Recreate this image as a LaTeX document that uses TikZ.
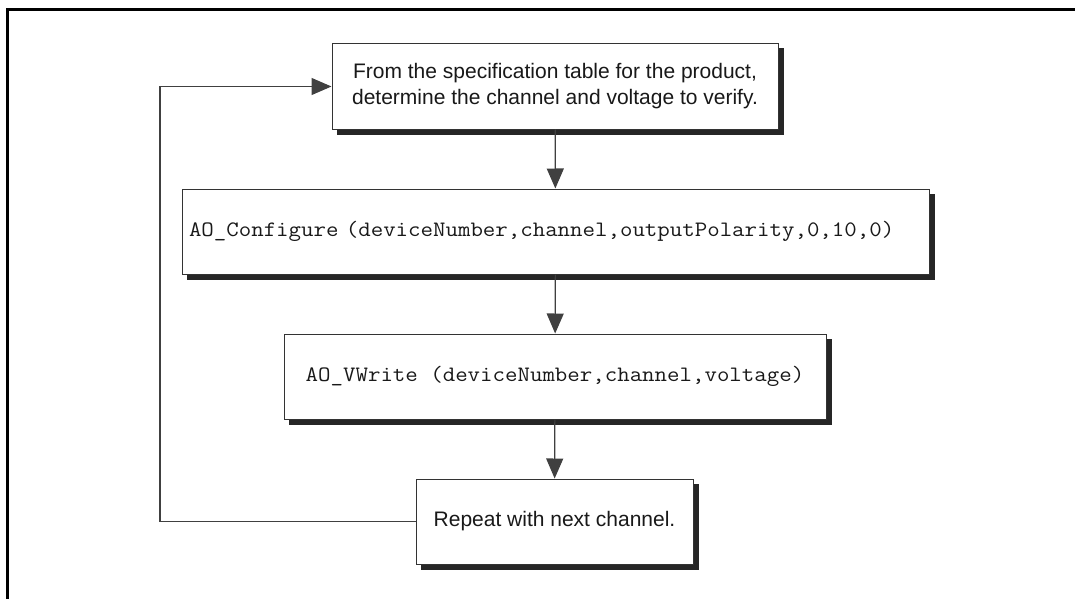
\documentclass[tikz,border=0pt]{standalone}
\usepackage{fontspec}
\setmainfont{Liberation Sans}
\setmonofont{Latin Modern Mono}[FakeStretch=1.1]
\usetikzlibrary{arrows.meta,backgrounds}
\begin{document}
\begin{tikzpicture}[x=1pt,y=-1pt,line cap=butt,line join=miter,>={Triangle[length=20pt,width=17pt]},font=\fontsize{21}{26}\selectfont]
		\tikzset{stepbox/.style={draw=black!80,line width=1pt,fill=white,minimum height=85pt,
				align=center,inner sep=0pt,text=black!90},
			flow/.style={draw=black!75,line width=1.2pt,->}}
		\useasboundingbox (0,0) rectangle (1075,599);
		\draw[line width=3pt] (7,599)--(7,10)--(1075,10);
		%--------- Boxes
		\node[stepbox,minimum width=446pt] (spec) at (555,86.5)
			{From the specification table for the product,\\determine the channel and voltage to verify.};
		\node[stepbox,text width=733pt,inner xsep=7pt,align=left,font=\fontsize{22}{26}\ttfamily] (config) at (555.5,231.5)
			{AO\_Configure (deviceNumber,channel,outputPolarity,0,10,0)};
		\node[stepbox,minimum width=542pt,font=\fontsize{22}{26}\ttfamily] (write) at (555,376.5)
			{AO\_VWrite (deviceNumber,channel,voltage)};
		\node[stepbox,minimum width=277pt] (repeat) at (554.5,521.5) {Repeat with next channel.};
		\coordinate (loop) at (160,521.5);
		%--------- Shadows
		\begin{scope}[on background layer]
			\foreach \b in {spec,config,write,repeat}
				\fill[black!85] ([shift={(5,5)}]\b.north west) rectangle ([shift={(5,5)}]\b.south east);
		\end{scope}
		%--------- Arrows
		\draw[flow] (spec) -- (config);
		\draw[flow] (config) -- (write);
		\draw[flow] (write) -- (repeat);
		\draw[flow] (repeat.west) -- (loop) |- (spec.west);
	\end{tikzpicture}
\end{document}
